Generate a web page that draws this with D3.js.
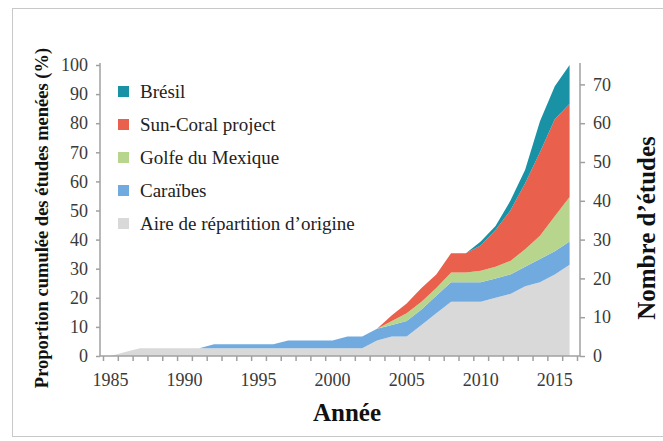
<!DOCTYPE html>
<html>
<head>
<meta charset="utf-8">
<script src="https://cdn.jsdelivr.net/npm/d3@7"></script>
<style>
  body { margin: 0; background: #fff; }
  svg text { font-family: "Liberation Serif", "Times New Roman", serif; }
</style>
</head>
<body>
<div class="chartDiv"></div>
<script>
// data (cumulative number of studies per region)
var years     = d3.range(1985, 2017);
var aire      = [0,1,2,2,2,2,2,2,2,2,2,2,2,2,2,2,2,2,4,5,5,8,11,14,14,14,15,16,18,19,21,23.5];
var caraibes  = [0,0,0,0,0,0,0,1,1,1,1,1,2,2,2,2,3,3,3,3,4,4,4.5,5,5,5,5,5,5,6,6,6];
var golfe     = [0,0,0,0,0,0,0,0,0,0,0,0,0,0,0,0,0,0,0,1,2,2,2,2.5,2.5,3,3,3.5,4.5,6,9,11.5];
var sunCoral  = [0,0,0,0,0,0,0,0,0,0,0,0,0,0,0,0,0,0,0,1.5,2.5,3.5,3.5,5,5,6.5,9.5,13,17,21.5,25,24];
var bresil    = [0,0,0,0,0,0,0,0,0,0,0,0,0,0,0,0,0,0,0,0,0,0,0,0,0,1,1,2.5,3.5,8,8.5,10];

var keys   = ["aire", "caraibes", "golfe", "sunCoral", "bresil"];
var labels = {aire: "Aire de répartition d\u2019origine", caraibes: "Caraïbes",
              golfe: "Golfe du Mexique", sunCoral: "Sun-Coral project", bresil: "Brésil"};
var colors = {aire: "#d9d9d9", caraibes: "#71aadf", golfe: "#b8d58e",
              sunCoral: "#e9604c", bresil: "#1a92a6"};
var leftTicks  = d3.range(0, 101, 10);
var rightTicks = d3.range(0, 71, 10);
var yearTicks  = [1985, 1990, 1995, 2000, 2005, 2010, 2015];

var width = 663, height = 441;
var plot = {left: 100, right: 580, top: 65, bottom: 356};
var axisColor = "#a0a0a0", textColor = "#3a3a3a";
var serif = "Liberation Serif, Times New Roman, serif";

var rows = years.map(function(y, i){
  return {year: y, aire: aire[i], caraibes: caraibes[i], golfe: golfe[i],
          sunCoral: sunCoral[i], bresil: bresil[i]};
});

var svg = d3.select(".chartDiv").append("svg")
            .attr("width", width).attr("height", height)
            .attr("font-family", serif);

// frame
svg.append("rect").attr("x", 12.5).attr("y", 8.5).attr("width", 660).attr("height", 428)
   .attr("fill", "none").attr("stroke", "#c8c8c8");

var x  = d3.scaleLinear().domain([1984.5, 2016.5]).range([103, 577]);
var yL = d3.scaleLinear().domain([0, 100]).range([plot.bottom, plot.top]);
var yR = d3.scaleLinear().domain([0, 75]).range([plot.bottom, plot.top]);

var stack = d3.stack().keys(keys)(rows);
var area = d3.area()
             .x(function(d){ return x(d.data.year); })
             .y0(function(d){ return yR(d[0]); })
             .y1(function(d){ return yR(d[1]); });

svg.append("g").selectAll("path").data(stack).enter().append("path")
   .attr("d", area)
   .attr("fill", function(d){ return colors[d.key]; });

// axes
var xAxis = d3.axisBottom(x).tickValues(d3.range(1984.5, 2017, 1)).tickSize(5).tickFormat("");
var gx = svg.append("g").attr("transform", "translate(0," + plot.bottom + ")").call(xAxis);
gx.select(".domain").remove();
gx.append("line").attr("x1", plot.left).attr("x2", plot.right).attr("stroke", axisColor).attr("stroke-width", 1.5);
gx.selectAll("text.year").data(yearTicks).enter().append("text")
  .attr("class", "year")
  .attr("x", function(d){ return x(d); }).attr("y", 30)
  .attr("text-anchor", "middle").attr("fill", textColor)
  .attr("font-family", serif).attr("font-size", 18)
  .text(function(d){ return d; });

var gl = svg.append("g").attr("transform", "translate(" + plot.left + ",0)")
            .call(d3.axisLeft(yL).tickValues(leftTicks).tickSize(4).tickPadding(8));
var gr = svg.append("g").attr("transform", "translate(" + plot.right + ",0)")
            .call(d3.axisRight(yR).tickValues(rightTicks).tickSize(5).tickPadding(8));

[gx, gl, gr].forEach(function(g){
  g.attr("font-family", serif).attr("font-size", 18);
  g.selectAll(".domain, .tick line").attr("stroke", axisColor).attr("stroke-width", 1.5);
  g.selectAll(".tick text").attr("fill", textColor);
});
gl.select(".domain").attr("d", "M0," + plot.bottom + "V" + (plot.top - 2));
gr.select(".domain").attr("d", "M0," + plot.bottom + "V" + (plot.top - 2));

// titles
svg.append("text").attr("x", 347).attr("y", 421).attr("text-anchor", "middle")
   .attr("fill", "#111").attr("font-size", 25).attr("font-weight", "bold")
   .text("Année");
svg.append("text").attr("transform", "translate(48,218) rotate(-90)")
   .attr("text-anchor", "middle").attr("fill", "#111")
   .attr("font-size", 18.5).attr("font-weight", "bold")
   .text("Proportion cumulée  des études menées (%)");
svg.append("text").attr("transform", "translate(655,228) rotate(-90)")
   .attr("text-anchor", "middle").attr("fill", "#111")
   .attr("font-size", 25).attr("font-weight", "bold")
   .text("Nombre d\u2019études");

// legend
var legendKeys = keys.slice().reverse();
var leg = svg.append("g").selectAll("g").data(legendKeys).enter().append("g")
             .attr("transform", function(d, i){ return "translate(118," + (92 + i * 33) + ")"; });
leg.append("rect").attr("x", 0).attr("y", -6).attr("width", 11).attr("height", 11)
   .attr("fill", function(d){ return colors[d]; });
leg.append("text").attr("x", 22).attr("y", 6).attr("fill", "#222")
   .attr("font-family", serif).attr("font-size", 19)
   .text(function(d){ return labels[d]; });
</script>
</body>
</html>
